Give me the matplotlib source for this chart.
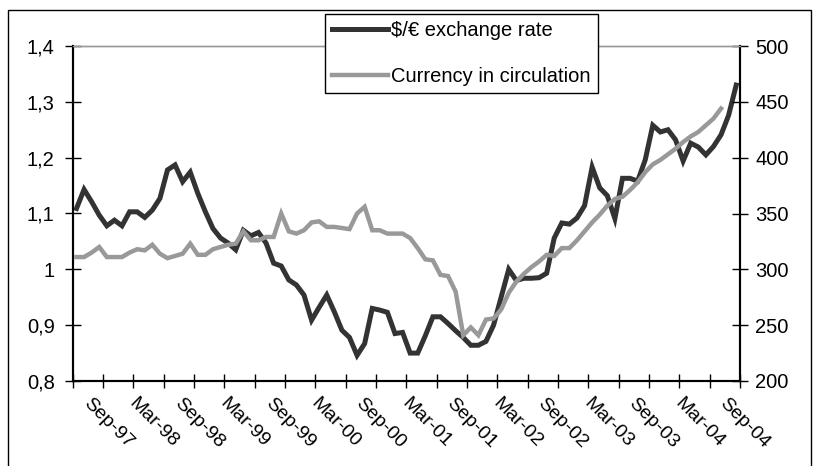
import matplotlib.pyplot as plt
from matplotlib.patches import Rectangle
import numpy as np

plt.rcParams['font.family'] = ['Liberation Sans', 'DejaVu Sans']

# monthly, Jul-97 .. Oct-04
exchange_rate = [1.109, 1.143, 1.121, 1.097, 1.078, 1.088, 1.078, 1.103, 1.103, 1.093,
                 1.106, 1.127, 1.178, 1.187, 1.157, 1.174, 1.136, 1.103, 1.073, 1.056,
                 1.047, 1.035, 1.070, 1.060, 1.066, 1.047, 1.011, 1.006, 0.981, 0.972,
                 0.954, 0.909, 0.932, 0.954, 0.924, 0.891, 0.878, 0.846, 0.867, 0.930,
                 0.927, 0.923, 0.885, 0.887, 0.850, 0.850, 0.881, 0.915, 0.915, 0.903,
                 0.890, 0.878, 0.864, 0.864, 0.871, 0.900, 0.950, 1.000, 0.980, 0.984,
                 0.984, 0.985, 0.993, 1.056, 1.083, 1.081, 1.092, 1.114, 1.183, 1.146,
                 1.132, 1.091, 1.163, 1.163, 1.158, 1.196, 1.258, 1.246, 1.250, 1.232,
                 1.194, 1.226, 1.219, 1.205, 1.220, 1.241, 1.276, 1.330]

currency = [311, 311, 315, 320, 311, 311, 311, 315, 318, 317,
            322, 314, 310, 312, 314, 323, 313, 313, 318, 320,
            322, 323, 334, 326, 326, 329, 329, 350, 334, 332,
            335, 342, 343, 338, 338, 337, 336, 350, 356, 335,
            335, 332, 332, 332, 328, 319, 309, 308, 295, 294,
            280, 241, 248, 241, 255, 256, 264, 279, 289, 296,
            302, 307, 313, 312, 319, 319, 326, 334, 342, 349,
            357, 363, 365, 371, 378, 387, 394, 398, 403, 408,
            414, 419, 423, 429, 435, 444, np.nan, np.nan]

tick_labels = ['Sep-97', 'Mar-98', 'Sep-98', 'Mar-99', 'Sep-99', 'Mar-00', 'Sep-00',
               'Mar-01', 'Sep-01', 'Mar-02', 'Sep-02', 'Mar-03', 'Sep-03', 'Mar-04', 'Sep-04']
left_ticks = [0.8, 0.9, 1.0, 1.1, 1.2, 1.3, 1.4]
left_labels = ['0,8', '0,9', '1', '1,1', '1,2', '1,3', '1,4']
right_ticks = [200, 250, 300, 350, 400, 450, 500]

n = len(exchange_rate)
x = np.arange(n)

fig = plt.figure(figsize=(8.19, 4.66), dpi=100)
ax = fig.add_axes([72.7 / 819, 85 / 466, 667.3 / 819, 335 / 466])
ax2 = ax.twinx()

l1, = ax.plot(x, exchange_rate, color='#333333', lw=3.6, solid_joinstyle='miter',
              label='$/€ exchange rate')
l2, = ax2.plot(x, currency, color='#999999', lw=3.2, solid_joinstyle='miter',
               label='Currency in circulation')

ax.set_xlim(-0.5, n - 0.5)
ax.set_ylim(0.8, 1.4)
ax2.set_ylim(200, 500)

# x axis: tick marks every 4 months, labels every 6 months
ax.set_xticks(np.arange(-0.5, n, 4), minor=True)
ax.set_xticks(np.arange(2, n, 6))
ax.set_xticklabels(tick_labels, rotation=-45, ha='left', va='top',
                   rotation_mode='anchor', fontsize=14)
ax.tick_params(axis='x', which='major', length=0, pad=10)
ax.tick_params(axis='x', which='minor', length=10, direction='inout', width=1)

ax.set_yticks(left_ticks)
ax.set_yticklabels(left_labels, fontsize=14.5)
ax.tick_params(axis='y', length=12, direction='inout', width=1, pad=7)

ax2.set_yticks(right_ticks)
ax2.set_yticklabels([str(v) for v in right_ticks], fontsize=14.5)
ax2.tick_params(axis='y', length=12, direction='inout', width=1, pad=5)

for a in (ax, ax2):
    for s in ['left', 'right', 'bottom']:
        a.spines[s].set_linewidth(1.5)
        a.spines[s].set_color('black')
    a.spines['top'].set_color('#999999')
    a.spines['top'].set_linewidth(1)

leg = ax2.legend([l1, l2], ['$/€ exchange rate', 'Currency in circulation'],
                 loc='upper left', bbox_to_anchor=(325 / 819, 1 - 14 / 466),
                 bbox_transform=fig.transFigure, fontsize=14.5, frameon=True,
                 fancybox=False, framealpha=1, edgecolor='black',
                 handlelength=2.8, handletextpad=0.15, labelspacing=1.35,
                 borderpad=0.35, borderaxespad=0)
leg.get_frame().set_linewidth(1)

# outer chart border
fig.patches.append(Rectangle((8 / 819, -0.05), (811 - 8) / 819, 1 - 10 / 466 + 0.05,
                             transform=fig.transFigure, fill=False,
                             edgecolor='black', lw=1))

fig.savefig('out.png', dpi=100)
